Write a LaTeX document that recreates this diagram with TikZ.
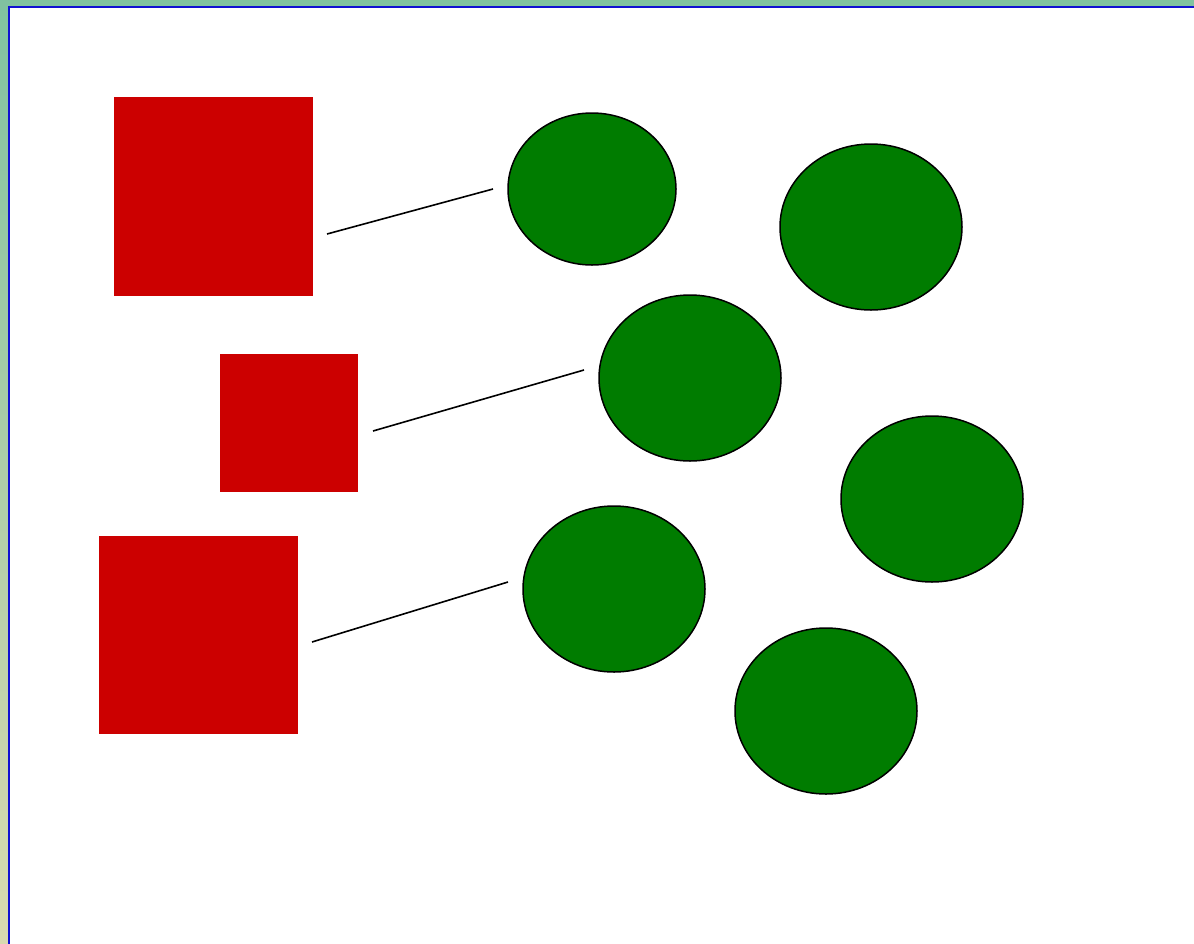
\documentclass[tikz,border=0pt]{standalone}
\usetikzlibrary{shapes.geometric}
\definecolor{bgtop}{RGB}{128,194,160}
\definecolor{bgbot}{RGB}{218,218,176}
\definecolor{frameblue}{RGB}{16,16,210}
\definecolor{boxred}{RGB}{204,0,0}
\definecolor{blobgreen}{RGB}{0,124,0}
\tikzset{
  redbox/.style={fill=boxred, draw=none},
  blob/.style={ellipse, fill=blobgreen, draw=black, line width=1.5pt, inner sep=0pt},
  link/.style={draw=black, line width=1.6pt},
}
\begin{document}
\begin{tikzpicture}[x=1pt,y=-1pt]
\useasboundingbox (0,0) rectangle (1194,943);
\begin{scope}
\clip (0,0) rectangle (1194,943);
\shade[top color=bgtop, bottom color=bgbot] (-5,-5) rectangle (1200,950);
\fill[white] (9,7) rectangle (1200,950);
\draw[frameblue, line width=2.6pt] (9,950) -- (9,7) -- (1200,7);
\end{scope}
% red squares
\fill[redbox] (114,97) rectangle (313,296);
\fill[redbox] (220,354) rectangle (358,492);
\fill[redbox] (99,536) rectangle (298,734);
% green ellipses
\node[blob, minimum width=168pt, minimum height=152pt] (e1) at (592,189) {};
\node[blob, minimum width=182pt, minimum height=166pt] (e2) at (871,227) {};
\node[blob, minimum width=182pt, minimum height=166pt] (e3) at (690,378) {};
\node[blob, minimum width=182pt, minimum height=166pt] (e4) at (932,499) {};
\node[blob, minimum width=182pt, minimum height=166pt] (e5) at (614,589) {};
\node[blob, minimum width=182pt, minimum height=166pt] (e6) at (826,711) {};
% connectors
\coordinate (a1) at (327,234); \coordinate (b1) at (493,189);
\coordinate (a2) at (373,431); \coordinate (b2) at (584,370);
\coordinate (a3) at (312,642); \coordinate (b3) at (508,582);
\draw[link] (a1) -- (b1);
\draw[link] (a2) -- (b2);
\draw[link] (a3) -- (b3);
\end{tikzpicture}
\end{document}
